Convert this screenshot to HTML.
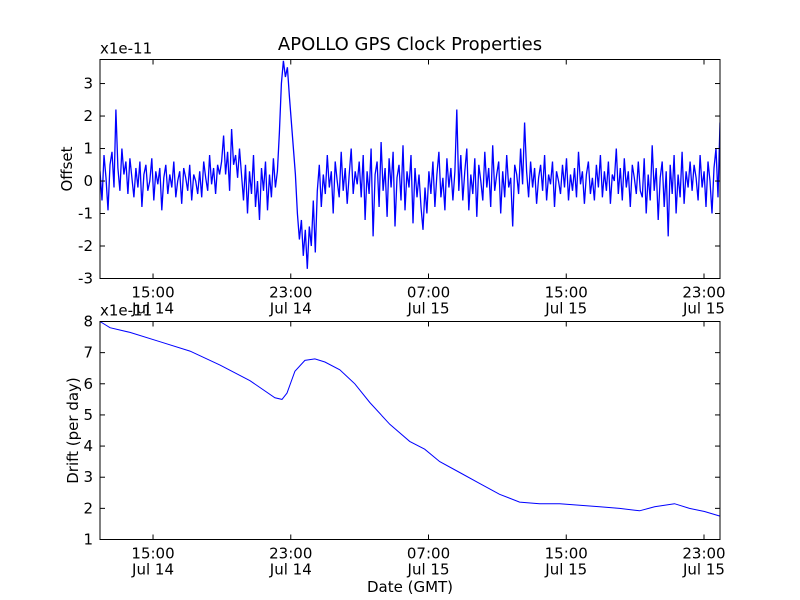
<!DOCTYPE html>
<html><head><meta charset="utf-8"><style>
html,body{margin:0;padding:0;background:#fff;}
svg{display:block;font-family:"DejaVu Sans","Liberation Sans",sans-serif;}
</style></head><body>
<svg id="chart" width="800" height="600" viewBox="0 0 800 600">
<rect width="800" height="600" fill="#fff"/>
<text x="410" y="50" font-size="18" text-anchor="middle">APOLLO GPS Clock Properties</text>
<g id="top"></g>
<g id="bot"></g>
<text x="410" y="592" font-size="15" text-anchor="middle">Date (GMT)</text>
</svg>
<script>
const xTickHours=[15,23,31,39,47];
const xTickTime=["15:00","23:00","07:00","15:00","23:00"];
const xTickDate=["Jul 14","Jul 14","Jul 15","Jul 15","Jul 15"];
const offsetYTicks=[-3,-2,-1,0,1,2,3];
const driftYTicks=[1,2,3,4,5,6,7,8];
const offsetValues=[0.3,-0.6,0.8,0.1,-0.9,0.5,0.9,-0.2,2.2,0.4,-0.3,1.0,0.2,0.6,-0.4,0.7,
0.1,-0.5,0.4,-0.2,0.6,-0.8,0.2,0.5,-0.3,0.0,0.7,-0.6,0.3,-0.1,0.4,-0.9,0.1,0.5,-0.4,0.2,-0.2,0.6,-0.5,0.0,0.3,-0.7,0.4,0.1,-0.3,0.5,-0.6,0.2,0.0,-0.4,0.3,
-0.5,0.6,0.1,-0.3,0.8,-0.1,0.4,-0.4,0.5,0.2,
0.6,1.4,0.2,0.9,-0.3,1.6,0.5,0.8,0.1,1.0,
0.2,-0.6,0.5,-1.0,0.3,-0.4,0.8,-0.8,0.0,-1.2,0.4,-0.3,0.6,-0.9,0.2,-0.5,0.7,-0.2,0.3,
1.5,3.0,3.7,3.2,3.5,2.6,1.8,1.0,0.2,
-1.0,-1.8,-1.2,-2.3,-1.5,-2.7,-1.4,-2.0,-0.6,-2.2,
-0.3,0.5,-0.8,0.2,-0.4,0.8,-0.2,0.3,-1.0,0.6,0.0,-0.5,0.9,-0.3,0.4,-0.7,0.2,1.0,-0.4,0.3,-0.1,0.6,
-0.5,0.8,-1.2,0.3,-0.4,1.0,-1.7,0.2,0.6,-0.8,1.2,-0.3,0.4,-1.1,0.7,-0.2,0.9,-1.4,0.1,0.5,-0.6,1.1,-0.9,0.3,-0.2,0.8,-1.3,0.4,-0.5,0.2,
-0.8,-1.5,-0.2,-1.0,0.3,
-0.4,0.6,-0.8,0.2,0.9,-0.5,0.1,-0.9,0.7,-0.2,0.4,-0.6,0.3,
2.2,
-0.3,0.8,-0.6,0.3,1.0,-0.9,0.2,-0.4,0.7,-1.1,0.5,0.0,-0.6,0.9,-0.2,0.4,-0.8,1.1,-0.3,0.2,0.6,-1.0,0.3,-0.5,0.8,-0.2,0.1,-1.4,0.5,0.2,-0.4,1.0,-0.1,1.8,
0.3,-0.5,0.6,-0.2,0.4,-0.7,0.1,0.5,-0.3,0.8,-0.6,0.2,-0.1,0.6,-0.8,0.3,0.0,-0.4,0.5,-0.2,0.7,-0.6,0.2,-0.3,0.4,-0.5,0.9,-0.1,0.3,-0.7,0.2,0.6,-0.4,0.1,-0.6,0.5,-0.2,0.8,-0.5,0.3,-0.3,0.6,-0.7,0.2,0.0,1.0,-0.4,0.4,-0.6,0.7,-0.2,0.3,-0.8,0.5,0.1,-0.4,0.6,-0.3,
-0.5,0.7,-1.0,0.2,-0.6,1.1,-0.3,0.4,-1.2,0.1,0.6,-0.8,0.3,-1.7,0.5,-0.4,0.8,-1.0,0.2,-0.5,0.9,-0.7,0.3,-0.2,0.6,
-0.3,0.5,0.1,-0.6,0.8,-0.2,0.3,-0.8,0.6,0.0,-1.0,0.4,1.0,-0.5,1.8];
const driftHours=[11.92,12.5,13.66,15.4,17.15,18.89,20.63,22.08,22.49,22.78,23.24,23.82,24.4,24.98,25.85,26.72,27.59,28.75,29.91,30.78,31.65,32.81,33.97,35.13,36.29,37.45,38.62,39.78,40.94,42.1,43.26,44.13,45.29,46.16,47.03,47.93];
const driftValues=[8.0,7.8,7.65,7.35,7.05,6.6,6.1,5.55,5.5,5.7,6.4,6.75,6.8,6.7,6.45,6.0,5.4,4.7,4.15,3.9,3.5,3.15,2.8,2.45,2.2,2.15,2.15,2.1,2.05,2.0,1.92,2.05,2.15,2.0,1.9,1.75];

const NS="http://www.w3.org/2000/svg";
const X0=100,X1=720,H0=11.92,H1=47.93;
function xs(h){return X0+(h-H0)/(H1-H0)*(X1-X0);}
function mk(tag,attrs,parent){const e=document.createElementNS(NS,tag);for(const k in attrs)e.setAttribute(k,attrs[k]);parent.appendChild(e);return e;}

function axes(g,top,bottom,ys,yTicks,ylabel,lx){
  for(let i=0;i<xTickHours.length;i++){
    const x=xs(xTickHours[i]);
    const t1=mk('line',{x1:x,x2:x,y1:bottom,y2:bottom-5,stroke:'#000'},g);
    
    
    const t2=mk('line',{x1:x,x2:x,y1:top,y2:top+5,stroke:'#000'},g);
    
    
    const a=mk('text',{x:x,y:bottom+19,'font-size':15,'text-anchor':'middle'},g);a.textContent=xTickTime[i];
    
    
    const b=mk('text',{x:x,y:bottom+35,'font-size':15,'text-anchor':'middle'},g);b.textContent=xTickDate[i];
    
    
  }
  for(const v of yTicks){
    const y=ys(v);
    const t=mk('line',{x1:X0,x2:X0+5,y1:y,y2:y,stroke:'#000'},g);
    
    
    const t2=mk('line',{x1:X1,x2:X1-5,y1:y,y2:y,stroke:'#000'},g);
    
    
    const l=mk('text',{x:X0-7,y:y+5,'font-size':15,'text-anchor':'end'},g);l.textContent=v;
    
    
  }
  const fr=mk('rect',{x:X0,y:top,width:X1-X0,height:bottom-top,fill:'none',stroke:'#000','stroke-width':1},g);
  
  
  const ex=mk('text',{x:X0,y:top-6,'font-size':15},g);ex.textContent='x1e-11';
  
  
  const yl=mk('text',{x:0,y:0,'font-size':15,'text-anchor':'middle',transform:`translate(${lx},${(top+bottom)/2}) rotate(-90)`},g);yl.textContent=ylabel;
  
  
}
const gT=document.getElementById('top');
const T0=59.5,T1=278.5;
const ysT=v=>T1-(v-(-3))/(3.74-(-3))*(T1-T0);
const clipT=mk('clipPath',{id:'ct'},gT);mk('rect',{x:X0,y:T0,width:X1-X0,height:T1-T0},clipT);
let d='';
for(let i=0;i<offsetValues.length;i++){
  const h=H0+i/(offsetValues.length-1)*(H1-H0);
  d+=(i?'L':'M')+xs(h).toFixed(1)+' '+ysT(offsetValues[i]).toFixed(1);
}
const pT=mk('path',{d:d,fill:'none',stroke:'#0000ff','stroke-width':1.3,'clip-path':'url(#ct)'},gT);


axes(gT,T0,T1,ysT,offsetYTicks,'Offset',72);
const gB=document.getElementById('bot');
const B0=321.5,B1=539.5;
const ysB=v=>B1-(v-1)/(8-1)*(B1-B0);
let d2='';
for(let i=0;i<driftValues.length;i++){
  d2+=(i?'L':'M')+xs(driftHours[i]).toFixed(1)+' '+ysB(driftValues[i]).toFixed(1);
}
const pB=mk('path',{d:d2,fill:'none',stroke:'#0000ff','stroke-width':1},gB);


axes(gB,B0,B1,ysB,driftYTicks,'Drift (per day)',78);
</script>
</body></html>
